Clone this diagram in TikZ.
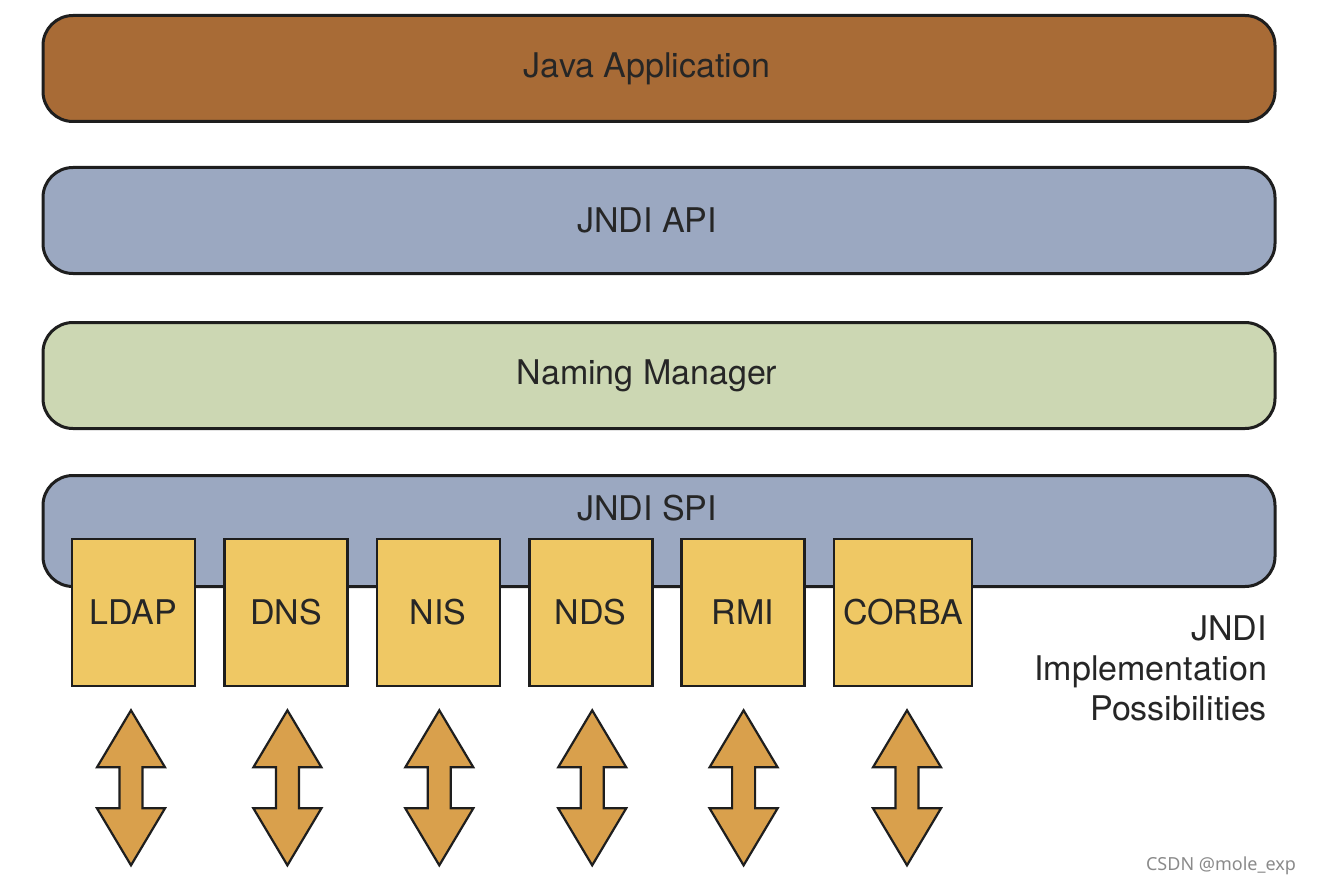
\documentclass[tikz,border=0pt]{standalone}
\usepackage{fontspec}
\setmainfont{TeX Gyre Heros}
\newfontfamily\wmfont{Noto Sans}
\usepackage{tikz}
\usetikzlibrary{positioning}
\definecolor{javabrown}{HTML}{A86B36}
\definecolor{jndiblue}{HTML}{9BA8C1}
\definecolor{nmgreen}{HTML}{CCD7B3}
\definecolor{provyellow}{HTML}{EFC864}
\definecolor{arrowgold}{HTML}{D9A04C}
\definecolor{edge}{HTML}{1E1E1E}
\definecolor{wmgrey}{HTML}{8A8A8A}

\begin{document}
\begin{tikzpicture}[x=0.5pt,y=-0.5pt,
  layer/.style={draw=edge,line width=1.5pt,rounded corners=15pt,minimum width=616pt,minimum height=53pt,inner sep=0pt},
  layertext/.style={font=\fontsize{17}{20}\selectfont,text=black!85,xshift=-6pt},
  provider/.style={draw=edge,line width=1.3pt,fill=provyellow,minimum width=61.5pt,minimum height=73.5pt,inner sep=0pt,font=\fontsize{17}{20}\selectfont,text=black!85},
  dblarrow/.style={draw=edge,line width=1.1pt,fill=arrowgold,line join=miter}]
  \useasboundingbox (0,0) rectangle (1318,888);
  % layers
  \node[layer,fill=javabrown,label={[layertext]center:Java Application}] (app) at (659,68.5) {};
  \node[layer,fill=jndiblue,below=21.5pt of app,label={[layertext]center:JNDI API}] (api) {};
  \node[layer,fill=nmgreen,below=23pt of api,label={[layertext]center:Naming Manager}] (nm) {};
  \node[layer,fill=jndiblue,minimum height=55.5pt,below=22pt of nm] (spi) {};
  \node[layertext] (spitext) at ([yshift=-17pt]spi.north) {JNDI SPI};
  % service providers
  \node[provider] (ldap) at (133.5,612.5) {LDAP};
  \node[provider,right=13.4pt of ldap] (dns) {DNS};
  \node[provider,right=13.4pt of dns] (nis) {NIS};
  \node[provider,right=13.4pt of nis] (nds) {NDS};
  \node[provider,right=13.4pt of nds] (rmi) {RMI};
  \node[provider,minimum width=69pt,right=13.4pt of rmi] (corba) {CORBA};
  \node[anchor=east,align=right,font=\fontsize{17}{20}\selectfont,text=black!85] (impl) at (1274,668) {JNDI\\Implementation\\Possibilities};
  % arrows
  \foreach \p/\dx in {ldap/-2.5,dns/1.5,nis/1,nds/1.5,rmi/0.5,corba/4}
    \draw[dblarrow,shift={(\p.south)},xshift=\dx*0.5pt]
      (0,23) -- (34,80) -- (11.5,80) -- (11.5,121) -- (34,121) -- (0,178)
      -- (-34,121) -- (-11.5,121) -- (-11.5,80) -- (-34,80) -- cycle;
  \node[anchor=east,font=\wmfont\fontsize{9}{11}\selectfont,text=wmgrey] (wm) at (1303,866) {CSDN @mole\_exp};
\end{tikzpicture}
\end{document}
